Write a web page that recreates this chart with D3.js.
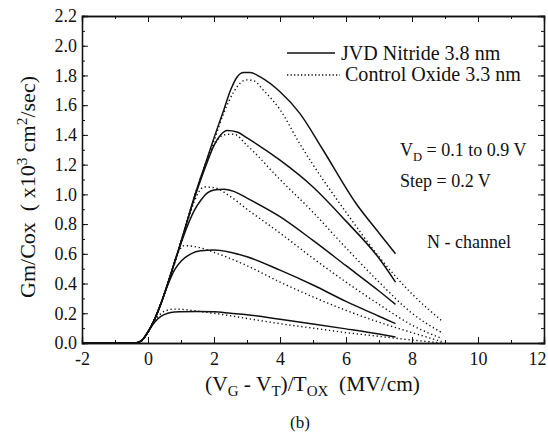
<!DOCTYPE html>
<html>
<head>
<meta charset="utf-8">
<script src="https://cdn.jsdelivr.net/npm/d3@7"></script>
<style>
  body { margin: 0; background: #fff; }
</style>
</head>
<body>
<svg id="chart" width="548" height="436" font-family="Liberation Serif"></svg>
<script>
const serif = 'Liberation Serif'

// drain voltages: 0.1 to 0.9 V, step 0.2 V
const drainVoltages = [0.1, 0.3, 0.5, 0.7, 0.9]

// shared rising edge, every curve leaves it at its own point
const riseX = [-2, -0.4, -0.2, 0, 0.2, 0.4, 0.6, 0.8, 1.0, 1.2, 1.4, 1.7, 2.0, 2.3]
const riseY = [0, 0, 0.015, 0.075, 0.16, 0.27, 0.4, 0.54, 0.68, 0.83, 0.98, 1.18, 1.38, 1.57]

// JVD Nitride 3.8 nm (solid)
const nitrideX = [
  [0.2, 0.4, 0.6, 0.8, 1, 1.5, 2, 2.5, 3, 4, 5, 6, 7, 7.5],
  [0.6, 0.8, 1.0, 1.3, 1.6, 2, 3, 4, 5, 6, 7, 7.5],
  [1.0, 1.2, 1.4, 1.6, 1.8, 2, 2.3, 2.6, 3, 4, 5, 6, 7, 7.5],
  [1.4, 1.6, 1.8, 2.0, 2.2, 2.4, 2.7, 3, 4, 5, 6, 7, 7.5],
  [2.5, 2.7, 2.9, 3.1, 3.4, 4, 4.6, 5.3, 6.3, 7, 7.5]
]
const nitrideY = [
  [0.14, 0.18, 0.2, 0.208, 0.21, 0.212, 0.21, 0.2, 0.19, 0.16, 0.128, 0.095, 0.06, 0.04],
  [0.39, 0.49, 0.55, 0.6, 0.62, 0.625, 0.58, 0.49, 0.39, 0.28, 0.18, 0.13],
  [0.67, 0.79, 0.89, 0.96, 1.01, 1.03, 1.035, 1.02, 0.975, 0.85, 0.69, 0.52, 0.35, 0.26],
  [0.97, 1.1, 1.22, 1.33, 1.4, 1.43, 1.42, 1.38, 1.23, 1.05, 0.82, 0.57, 0.41],
  [1.7, 1.79, 1.82, 1.82, 1.79, 1.69, 1.545, 1.3, 0.94, 0.74, 0.6]
]

// Control Oxide 3.3 nm (dotted)
const oxideX = [
  [0.2, 0.4, 0.6, 0.8, 1, 1.5, 2, 3, 4, 5, 6, 7, 8, 8.9],
  [0.8, 0.9, 1.0, 1.1, 1.5, 2, 3, 4, 5, 6, 7, 8, 8.9],
  [1.2, 1.4, 1.55, 1.7, 2, 2.5, 3, 4, 5, 6, 7, 8, 8.9],
  [1.4, 1.7, 2.0, 2.3, 2.6, 3, 4, 5, 6, 7, 8, 8.9],
  [2.0, 2.3, 2.6, 2.8, 3.0, 3.2, 3.5, 4, 4.6, 5, 6, 7, 8, 8.9]
]
const oxideY = [
  [0.15, 0.2, 0.222, 0.228, 0.227, 0.214, 0.2, 0.165, 0.13, 0.1, 0.07, 0.045, 0.02, 0],
  [0.53, 0.6, 0.64, 0.655, 0.645, 0.61, 0.52, 0.41, 0.31, 0.22, 0.14, 0.07, 0.01],
  [0.82, 0.95, 1.02, 1.05, 1.045, 0.985, 0.9, 0.74, 0.57, 0.41, 0.26, 0.12, 0.03],
  [0.98, 1.17, 1.33, 1.4, 1.405, 1.33, 1.1, 0.88, 0.64, 0.41, 0.2, 0.07],
  [1.36, 1.55, 1.69, 1.75, 1.77, 1.765, 1.7, 1.57, 1.34, 1.2, 0.88, 0.58, 0.33, 0.15]
]

const xTicks = [-2, 0, 2, 4, 6, 8, 10, 12]
const yTicks = [0, 0.2, 0.4, 0.6, 0.8, 1.0, 1.2, 1.4, 1.6, 1.8, 2.0, 2.2]

const margin = { top: 16, left: 82, right: 4, bottom: 93 }
const width = 548 - margin.left - margin.right
const height = 436 - margin.top - margin.bottom

const svg = d3.select('#chart')
const g = svg.append('g')
  .attr('transform', 'translate(' + margin.left + ',' + margin.top + ')')

const x = d3.scaleLinear().domain([-2, 12]).range([0, width])
const y = d3.scaleLinear().domain([0, 2.2]).range([height, 0])

// rising edge up to the curve's first own point, then its own points
function buildPoints(xs, ys) {
  const pts = []
  riseX.forEach((v, i) => { if (v < xs[0]) pts.push([v, riseY[i]]) })
  xs.forEach((v, i) => pts.push([v, ys[i]]))
  return pts
}

// scale a text's font so it spans the wanted length
function fitText(sel, len) {
  const now = sel.node().getComputedTextLength()
  const size = +sel.attr('font-size') * len / now
  sel.attr('font-size', size)
  return size
}

// sub / superscript pieces, sized relative to the parent text
function addSub(t, s) {
  t.append('tspan').attr('font-size', '0.7em').attr('dy', '0.36em').text(s)
}
function addSup(t, s) {
  t.append('tspan').attr('font-size', '0.7em').attr('dy', '-0.5em').text(s)
}
function addPlain(t, s, shift) {
  t.append('tspan').attr('dy', shift).text(s)
}

const line = d3.line()
  .x(d => x(d[0]))
  .y(d => y(d[1]))
  .curve(d3.curveMonotoneX)

drainVoltages.forEach((vd, i) => {
  g.append('path')
    .attr('d', line(buildPoints(oxideX[i], oxideY[i])))
    .attr('fill', 'none')
    .attr('stroke', '#111')
    .attr('stroke-width', 1.4)
    .attr('stroke-dasharray', '1.3,2.7')
  g.append('path')
    .attr('d', line(buildPoints(nitrideX[i], nitrideY[i])))
    .attr('fill', 'none')
    .attr('stroke', '#111')
    .attr('stroke-width', 1.5)
})

// axes, ticks pointing inward
const minorX = d3.range(-2, 12.01, 1)
const minorY = d3.range(0, 2.201, 0.1)

g.append('g')
  .attr('transform', 'translate(0,' + height + ')')
  .call(d3.axisBottom(x).tickValues(minorX).tickSize(-3).tickFormat(''))
g.append('g')
  .attr('class', 'xlab')
  .attr('transform', 'translate(0,' + height + ')')
  .call(d3.axisBottom(x).tickValues(xTicks).tickSize(-6).tickPadding(9)
    .tickFormat(d => String(d)))
g.append('g')
  .call(d3.axisTop(x).tickValues(minorX).tickSize(-3).tickFormat(''))
g.append('g')
  .call(d3.axisTop(x).tickValues(xTicks).tickSize(-6).tickFormat(''))

g.append('g')
  .call(d3.axisLeft(y).tickValues(minorY).tickSize(-3).tickFormat(''))
g.append('g')
  .call(d3.axisLeft(y).tickValues(yTicks).tickSize(-6).tickPadding(5)
    .tickFormat(d3.format('.1f')))
g.append('g')
  .attr('transform', 'translate(' + width + ',0)')
  .call(d3.axisRight(y).tickValues(minorY).tickSize(-3).tickFormat(''))
g.append('g')
  .attr('transform', 'translate(' + width + ',0)')
  .call(d3.axisRight(y).tickValues(yTicks).tickSize(-6).tickFormat(''))

g.selectAll('g').attr('font-family', serif).attr('font-size', 18)
g.selectAll('.domain').attr('stroke', '#111').attr('stroke-width', 1.3)
g.selectAll('.tick line').attr('stroke', '#111')
g.selectAll('.tick text').attr('fill', '#111')
// last x label sits at the page edge
g.selectAll('.xlab .tick text')
  .filter(d => d === 12)
  .attr('text-anchor', 'end')
  .attr('dx', 2)

// legend
const legend = svg.append('g').attr('fill', '#111')
legend.append('line')
  .attr('x1', 287).attr('x2', 335)
  .attr('y1', 53).attr('y2', 53)
  .attr('stroke', '#111').attr('stroke-width', 1.5)
legend.append('line')
  .attr('x1', 287).attr('x2', 340)
  .attr('y1', 75).attr('y2', 75)
  .attr('stroke', '#111').attr('stroke-width', 1.4)
  .attr('stroke-dasharray', '1.3,2.2')
const legA = legend.append('text')
  .attr('x', 341).attr('y', 59.5).attr('font-size', 18)
  .text('JVD Nitride 3.8 nm')
const legB = legend.append('text')
  .attr('x', 345).attr('y', 81).attr('font-size', 18)
  .text('Control Oxide 3.3 nm')
legA.attr('font-size', fitText(legB, 176))

// notes
const notes = svg.append('g').attr('fill', '#111').attr('font-size', 18)
const vd = notes.append('text')
  .attr('x', 400).attr('y', 156)
addPlain(vd, 'V', 0)
addSub(vd, 'D')
addPlain(vd, ' = 0.1 to 0.9 V', '-0.25em')

notes.append('text')
  .attr('x', 400).attr('y', 187)
  .text('Step = 0.2 V')

notes.append('text')
  .attr('x', 427).attr('y', 248)
  .text('N - channel')

// axis titles
const yTitle = svg.append('text')
  .attr('transform', 'translate(35,187) rotate(-90)')
  .attr('text-anchor', 'middle')
  .attr('font-size', 20)
  .attr('fill', '#111')
addPlain(yTitle, 'Gm/Cox\u00a0 ( x10', 0)
addSup(yTitle, '3')
addPlain(yTitle, ' cm', '0.35em')
addSup(yTitle, '2')
addPlain(yTitle, '/sec)', '0.35em')
fitText(yTitle, 222)

const xTitle = svg.append('text')
  .attr('x', 312.5)
  .attr('y', 391)
  .attr('text-anchor', 'middle')
  .attr('font-size', 20)
  .attr('fill', '#111')
addPlain(xTitle, '(V', 0)
addSub(xTitle, 'G')
addPlain(xTitle, ' - V', '-0.25em')
addSub(xTitle, 'T')
addPlain(xTitle, ')/T', '-0.25em')
addSub(xTitle, 'OX')
addPlain(xTitle, '\u00a0 (MV/cm)', '-0.25em')
fitText(xTitle, 215)

svg.append('text')
  .attr('x', 300).attr('y', 428)
  .attr('text-anchor', 'middle')
  .attr('font-size', 17)
  .attr('fill', '#111')
  .text('(b)')
</script>
</body>
</html>
